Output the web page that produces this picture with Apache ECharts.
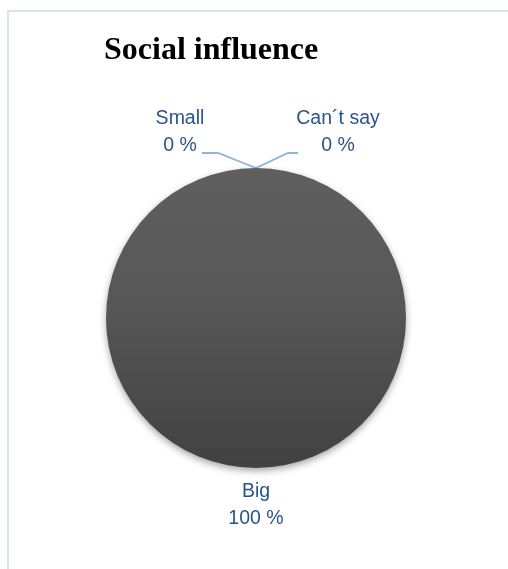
<!DOCTYPE html>
<html>
<head>
<meta charset="utf-8">
<script src="https://cdn.jsdelivr.net/npm/echarts@6/dist/echarts.min.js"></script>
<style>
  html, body { margin: 0; padding: 0; background: #fff; }
  #chart { width: 508px; height: 569px; }
</style>
</head>
<body>
<div id="chart"></div>
<script>
// Answer categories and their shares (percent)
const categories = ['Small', 'Big', 'Can\u00b4t say'];
const shares = [0, 100, 0];

// Offsets of each label block from the rim point its leader starts at,
// plus the leader's bend and end offsets (side: -1 left, 1 right, 0 none)
const labelShift = {
  'Small':          { dx: -76, dy: -36, side: -1, bend: 38, end: 54 },
  'Can\u00b4t say': { dx: 82,  dy: -36, side: 1,  bend: 32, end: 42 },
  'Big':            { dx: 0,   dy: 37,  side: 0,  bend: 0,  end: 0 }
};

const chart = echarts.init(document.getElementById('chart'), null, { renderer: 'canvas' });

const option = {
  backgroundColor: '#ffffff',
  animation: false,
  title: {
    text: 'Social influence',
    left: 99,
    top: 30,
    textStyle: {
      fontFamily: '"Liberation Serif", "Times New Roman", serif',
      fontWeight: 'bold',
      fontSize: 32,
      color: '#000000'
    }
  },
  graphic: [{
    type: 'rect',
    silent: true,
    shape: { x: 8, y: 11, width: 700, height: 700 },
    style: { fill: 'none', stroke: '#d7e4f4', lineWidth: 2 }
  }],
  series: [{
    type: 'pie',
    center: [256, 318],
    radius: 150,
    startAngle: 90,
    clockwise: true,
    minAngle: 0,
    stillShowZeroSum: true,
    avoidLabelOverlap: false,
    itemStyle: {
      color: {
        type: 'linear', x: 0, y: 0, x2: 0, y2: 1,
        colorStops: [
          { offset: 0, color: '#5f5f5f' },
          { offset: 0.45, color: '#575757' },
          { offset: 1, color: '#414141' }
        ]
      },
      borderWidth: 0,
      shadowBlur: 7,
      shadowOffsetY: 3,
      shadowColor: 'rgba(0,0,0,0.35)'
    },
    label: {
      show: true,
      position: 'outside',
      formatter: '{b}\n{c} %',
      fontFamily: '"Liberation Sans", Arial, sans-serif',
      fontSize: 19.5,
      lineHeight: 27,
      color: '#2a5589',
      align: 'center'
    },
    labelLine: {
      show: true,
      length: 10,
      length2: 10,
      lineStyle: { color: '#8db3e2', width: 1.8 }
    },
    labelLayout: function (params) {
      const name = categories[params.dataIndex];
      const s = labelShift[name];
      const p = params.labelLinePoints ? params.labelLinePoints[0] : null;
      if (!p) return {};
      const res = {
        x: p[0] + s.dx,
        y: p[1] + s.dy,
        align: 'center',
        verticalAlign: 'middle'
      };
      if (s.side === 0) {
        res.labelLinePoints = [p, p, p];
      } else {
        const endY = p[1] - 15;
        res.labelLinePoints = [
          [p[0], p[1]],
          [p[0] + s.side * s.bend, endY],
          [p[0] + s.side * s.end, endY]
        ];
      }
      return res;
    },
    data: categories.map((name, i) => ({
      name: name,
      value: shares[i],
      labelLine: { show: shares[i] === 0 }
    }))
  }]
};

chart.setOption(option);
</script>
</body>
</html>
